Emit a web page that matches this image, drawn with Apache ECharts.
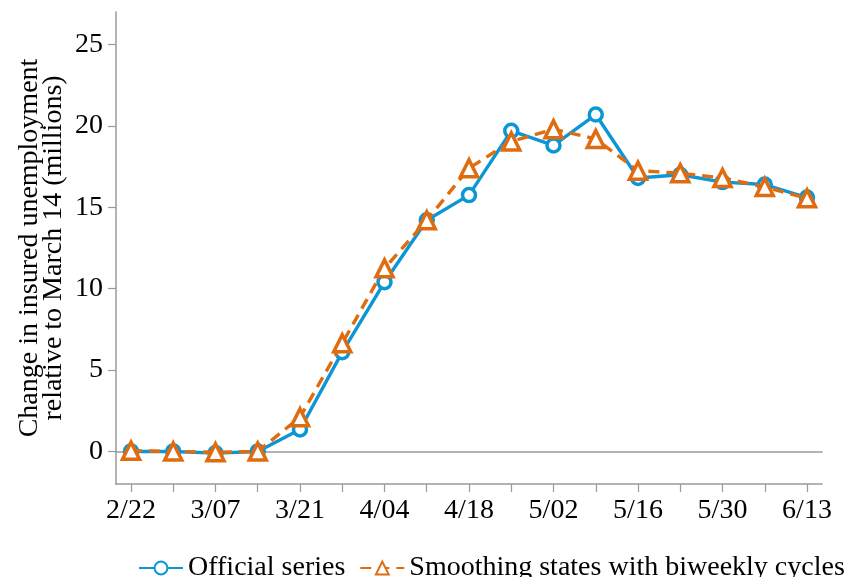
<!DOCTYPE html>
<html>
<head>
<meta charset="utf-8">
<script src="https://cdn.jsdelivr.net/npm/echarts@6/dist/echarts.min.js"></script>
<style>
    html, body { margin: 0; padding: 0; background: #fff; }
    #chart { width: 847px; height: 577px; }
</style>
</head>
<body>
<div id="chart"></div>
<script>
// weekly dates, one per point
const weeks = ['2/22', '2/29', '3/07', '3/14', '3/21', '3/28', '4/04', '4/11', '4/18',
    '4/25', '5/02', '5/09', '5/16', '5/23', '5/30', '6/06', '6/13']
const official = [0.0, 0.0, -0.1, 0.0, 1.35, 6.1, 10.4, 14.2, 15.75,
    19.7, 18.8, 20.7, 16.8, 17.0, 16.55, 16.4, 15.6]
const smoothed = [0.05, 0.0, -0.05, 0.0, 2.1, 6.65, 11.25, 14.2, 17.4,
    19.05, 19.8, 19.2, 17.25, 17.1, 16.8, 16.25, 15.55]
const yTicks = [0, 5, 10, 15, 20, 25]
const xLabelIdx = [0, 2, 4, 6, 8, 10, 12, 14, 16]

const FONT = 'Liberation Serif'
const BLUE = '#0d96d6'
const ORANGE = '#e06c10'
const GREY = '#9a9a9a'

const chart = echarts.init(document.getElementById('chart'))
const xMin = -0.355
const xMax = weeks.length - 1 + 0.355

chart.setOption({
    animation: false,
    textStyle: { fontFamily: FONT, color: '#000' },
    grid: { left: 116, right: 25, top: 12, bottom: 93 },
    legend: {
        bottom: -10,
        left: 133,
        width: 1000,
        itemWidth: 44,
        itemHeight: 16,
        itemGap: 14,
        textStyle: { fontFamily: FONT, fontSize: 28, color: '#000' },
        data: ['Official series', 'Smoothing states with biweekly cycles']
    },
    xAxis: [
        {
            type: 'value',
            min: xMin,
            max: xMax,
            position: 'bottom',
            axisLine: { onZero: false, lineStyle: { color: GREY, width: 1.5 } },
            axisTick: {
                customValues: weeks.map((w, i) => i),
                length: 8,
                lineStyle: { color: GREY, width: 1.2 }
            },
            axisLabel: {
                customValues: xLabelIdx,
                formatter: v => weeks[Math.round(v)],
                margin: 13,
                fontFamily: FONT,
                fontSize: 28,
                color: '#000'
            },
            splitLine: { show: false }
        },
        {
            // zero line
            type: 'value',
            min: xMin,
            max: xMax,
            position: 'top',
            axisLine: { onZero: true, lineStyle: { color: GREY, width: 1.5 } },
            axisTick: { show: false },
            axisLabel: { show: false },
            splitLine: { show: false }
        }
    ],
    yAxis: {
        type: 'value',
        min: -2,
        max: 27,
        name: 'Change in insured unemployment\nrelative to March 14 (millions)',
        nameLocation: 'middle',
        nameGap: 50,
        nameMoveOverlap: false,
        nameTextStyle: { fontFamily: FONT, fontSize: 28, lineHeight: 24, color: '#000' },
        axisLine: { show: true, onZero: false, lineStyle: { color: GREY, width: 1.5 } },
        axisTick: {
            show: true,
            customValues: yTicks,
            length: 8,
            lineStyle: { color: GREY, width: 1.2 }
        },
        axisLabel: {
            customValues: yTicks,
            margin: 13,
            fontFamily: FONT,
            fontSize: 28,
            color: '#000'
        },
        splitLine: { show: false }
    },
    series: [
        {
            name: 'Official series',
            type: 'line',
            data: official.map((v, i) => [i, v]),
            symbol: 'circle',
            symbolSize: 13,
            color: BLUE,
            lineStyle: { color: BLUE, width: 3.4 },
            itemStyle: { color: '#fff', borderColor: BLUE, borderWidth: 3.5 },
            z: 3
        },
        {
            name: 'Smoothing states with biweekly cycles',
            type: 'line',
            data: smoothed.map((v, i) => [i, v]),
            symbol: 'triangle',
            symbolSize: 17,
            color: ORANGE,
            lineStyle: { color: ORANGE, width: 3.4, type: [11, 7] },
            itemStyle: { color: '#fff', borderColor: ORANGE, borderWidth: 3.5 },
            z: 4
        }
    ]
})
</script>
</body>
</html>
